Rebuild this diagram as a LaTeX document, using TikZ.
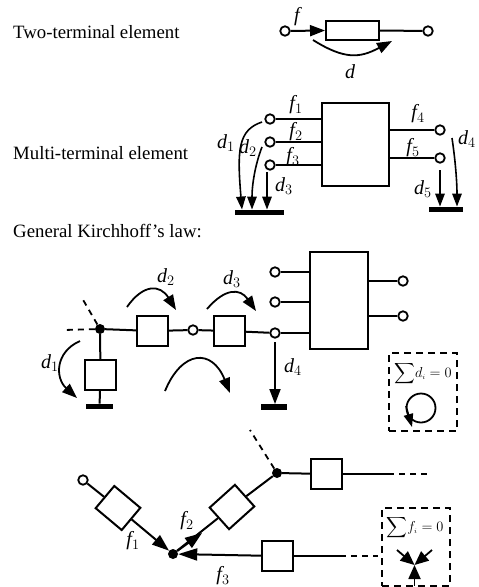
\documentclass[tikz,border=0pt]{standalone}
\usepackage{exscale}
\usepackage{fontspec}
\setmainfont{Liberation Serif}
\usetikzlibrary{arrows.meta}
\begin{document}
\begin{tikzpicture}[x=1pt,y=-1pt,
  wire/.style={line width=2pt},
  dashwire/.style={line width=1.8pt,dash pattern=on 6pt off 5pt},
  term/.style={circle,draw,line width=1.8pt,fill=white,minimum size=9.5pt,inner sep=0pt},
  jun/.style={circle,fill=black,minimum size=10pt,inner sep=0pt},
  elem/.style={draw,line width=2pt,fill=white,inner sep=0pt,anchor=center},
  sq/.style={elem,minimum width=31pt,minimum height=30pt},
  rsq/.style={elem,minimum width=34pt,minimum height=29pt},
  bar/.style={fill=black,minimum width=#1,minimum height=5.5pt,inner sep=0pt},
  tip/.style={-{Triangle[length=13pt,width=9.5pt]},line width=1.6pt},
  bigtip/.style={-{Triangle[length=15pt,width=11pt]},line width=1.8pt},
  minitip/.style={-{Triangle[length=14pt,width=12pt]},line width=1.8pt},
  lab/.style={font=\fontsize{20}{20}\selectfont\itshape,inner sep=0pt},
  txt/.style={font=\fontsize{18.8}{19}\selectfont,inner sep=0pt,anchor=base west},
  sumtxt/.style={inner sep=0pt,font=\fontsize{14}{14}\selectfont},
  eqn/.style={draw,dash pattern=on 7pt off 5pt,line width=1.8pt}]
\useasboundingbox (0,0) rectangle (479,587);
% texts
\node[txt] (t1) at (13,38) {Two-terminal element};
\node[txt] (t2) at (13,159.5) {Multi-terminal element};
\node[txt] (t3) at (13,237) {General Kirchhoff's law:};
% two-terminal
\node[term] (a1) at (285,31) {};
\node[term] (a2) at (428,31) {};
\node[elem,minimum width=53pt,minimum height=19pt] (ab) at (352.5,30.5) {};
\draw[wire,-{Triangle[length=15pt,width=11pt]}] (a1) -- (ab.west);
\draw[wire] (ab.east) -- (a2);
\coordinate (ad1) at (313,40);
\coordinate (ad2) at (392,41);
\draw[bigtip] (ad1) .. controls (345,60) and (360,58) .. (ad2);
\node[lab] (af) at (297,17) {f};
\node[lab] (ad) at (350,72) {d};
% multi-terminal
\node[elem,minimum width=67pt,minimum height=83pt] (mb) at (355.5,144.5) {};
\node[term] (m1) at (270,119) {};
\node[term] (m2) at (270,142) {};
\node[term] (m3) at (270,165) {};
\node[term] (m4) at (440,130) {};
\node[term] (m5) at (440,158) {};
\draw[wire] (m1) -- (m1-|mb.west);
\draw[wire] (m2) -- (m2-|mb.west);
\draw[wire] (m3) -- (m3-|mb.west);
\draw[wire] (m4) -- (m4-|mb.east);
\draw[wire] (m5) -- (m5-|mb.east);
\node[bar=49pt] (g1) at (259,212.5) {};
\node[bar=34pt] (g2) at (446,209.5) {};
\coordinate (md1) at (262,122);
\coordinate (md2) at (262,147);
\coordinate (md3) at (267,172);
\coordinate (md5) at (440,170);
\coordinate (md4) at (452,138);
\draw[tip] (md1) .. controls (238,130) and (237,150) .. (g1.north west-|242,0);
\draw[tip] (md2) .. controls (255,165) and (252,185) .. (g1.north west-|252,0);
\draw[tip] (md3) -- (g1.north west-|267,0);
\draw[tip] (md5) -- (g2.north west-|440,0);
\draw[tip] (md4) .. controls (456,165) and (457,185) .. (g2.north west-|457,0);
\node[lab] at (296,105) (f1) {f$_1$};
\node[lab] at (296,132) (f2) {f$_2$};
\node[lab] at (293,157) (f3) {f$_3$};
\node[lab] at (418,114) (f4) {f$_4$};
\node[lab] at (413,148) (f5) {f$_5$};
\node[lab] at (226,143) (d1) {d$_1$};
\node[lab] at (248,148) (d2) {d$_2$};
\node[lab] at (284,186) (d3) {d$_3$};
\node[lab] at (467,139) (d4) {d$_4$};
\node[lab] at (423,189) (d5) {d$_5$};
% general law, network
\node[jun] (j1) at (100,329) {};
\coordinate (j1l) at (64,330);
\coordinate (j1u) at (82,298);
\node[sq] (k1) at (152.5,331) {};
\node[term] (c1) at (193,330) {};
\node[sq] (k2) at (229.5,331) {};
\node[term] (c2) at (275,333) {};
\node[term] (c3) at (275,302) {};
\node[term] (c4) at (275,272) {};
\node[elem,minimum width=58pt,minimum height=97pt] (big) at (339,300.5) {};
\node[term] (r1) at (403,281) {};
\node[term] (r2) at (403,316) {};
\node[sq] (k3) at (100.5,375) {};
\node[bar=27pt] (g3) at (99.5,406.5) {};
\node[bar=26pt] (g4) at (274,407) {};
\draw[wire] (j1) -- (k1);
\draw[wire] (k1) -- (c1);
\draw[wire] (c1) -- (k2);
\draw[wire] (k2) -- (c2);
\draw[wire] (c2) -- (c2-|big.west);
\draw[wire] (c3) -- (c3-|big.west);
\draw[wire] (c4) -- (c4-|big.west);
\draw[wire] (r1) -- (r1-|big.east);
\draw[wire] (r2) -- (r2-|big.east);
\draw[wire] (j1) -- (k3);
\draw[wire] (k3) -- (g3);
\draw[dashwire] (j1) -- (j1l);
\draw[dashwire] (j1) -- (j1u);
\coordinate (e1) at (275,342);
\draw[bigtip] (e1) -- (g4.north-|e1);
\coordinate (b1s) at (80,341);
\coordinate (b1e) at (77,398);
\draw[bigtip] (b1s) .. controls (55,352) and (55,378) .. (b1e);
\coordinate (b2s) at (127,307);
\coordinate (b2e) at (176,310);
\draw[bigtip] (b2s) .. controls (143,284) and (160,284) .. (b2e);
\coordinate (b3s) at (207,309);
\coordinate (b3e) at (256,311);
\draw[bigtip] (b3s) .. controls (225,288) and (240,288) .. (b3e);
\coordinate (b4s) at (165,391);
\coordinate (b4e) at (230,393);
\draw[bigtip] (b4s) .. controls (182,350) and (212,348) .. (b4e);
\node[lab] at (50,363) (gd1) {d$_1$};
\node[lab] at (166,277) (gd2) {d$_2$};
\node[lab] at (232,279) (gd3) {d$_3$};
\node[lab] at (293,367) (gd4) {d$_4$};
% sum d
\node[eqn,minimum width=68pt,minimum height=78pt,inner sep=0pt] (bd) at (423,392) {};
\node[sumtxt] (sd) at (423,374) {$\displaystyle\sum\!d_{\scriptscriptstyle i}=0$};
\node[circle,draw,line width=1.8pt,minimum size=29pt,inner sep=0pt] (cd) at (421,408) {};
\coordinate (cds) at (406,406);
\coordinate (cde) at (412,427);
\draw[tip] (cds) -- (cde);
% lower network
\node[term] (o1) at (83,480) {};
\node[jun] (jb) at (173,554) {};
\node[jun] (jt) at (277,473) {};
\coordinate (jtu) at (250,430);
\node[rsq,rotate=-40] (q1) at (118,508) {};
\node[rsq,rotate=42] (q2) at (232,507) {};
\node[sq] (q3) at (326.5,474) {};
\node[sq] (q4) at (277.5,556) {};
\coordinate (q3r) at (388,474);
\coordinate (q3d) at (427,474);
\coordinate (q4r) at (340,556);
\coordinate (q4d) at (378,556);
\draw[wire] (o1) -- (q1);
\draw[wire,-{Triangle[length=17pt,width=12pt]}] (q1) -- (jb);
\draw[wire] (jt) -- (q2);
\draw[wire] (jt) -- (q3);
\draw[wire] (q2) -- (jb);
\coordinate (f2t) at (202,533);
\draw[wire,-{Triangle[length=17pt,width=12pt]}] (jb) -- (f2t);
\draw[wire,-{Triangle[length=19pt,width=12pt]}] (q4) -- (jb);
\draw[wire] (q3) -- (q3r);
\draw[dashwire] (q3r) -- (q3d);
\draw[wire] (q4) -- (q4r);
\draw[dashwire] (q4r) -- (q4d);
\draw[dashwire] (jt) -- (jtu);
\node[lab] at (133,541) (lf1) {f$_1$};
\node[lab] at (187,521) (lf2) {f$_2$};
\node[lab] at (223,576) (lf3) {f$_3$};
% sum f
\node[eqn,minimum width=68pt,minimum height=78pt,inner sep=0pt] (bf) at (416,547) {};
\node[sumtxt] (sf) at (415,528) {$\displaystyle\sum\!f_{\scriptscriptstyle i}=0$};
\coordinate (mc) at (414.5,565);
\coordinate (ma) at (397,550);
\coordinate (mb2) at (432,550);
\coordinate (mu) at (414.5,586);
\draw[minitip] (ma) -- (mc);
\draw[minitip] (mb2) -- (mc);
\draw[minitip] (mu) -- (mc);
\end{tikzpicture}
\end{document}
